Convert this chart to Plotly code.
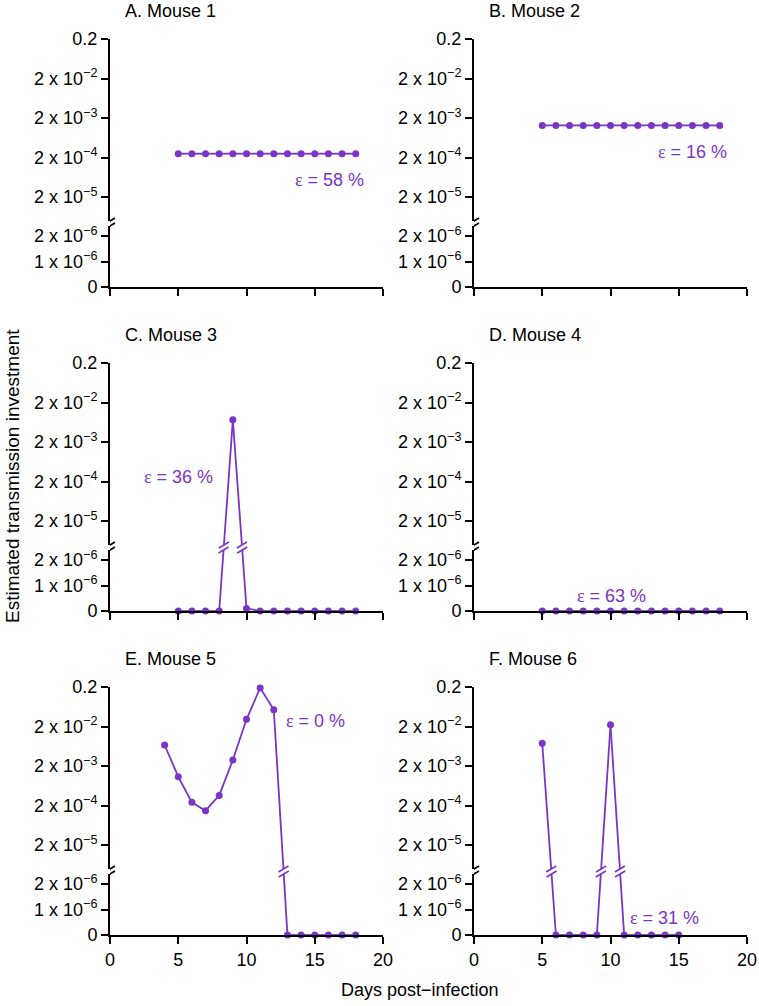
import math
import plotly.graph_objects as go

# ---------------- data ----------------
panel_titles = ["A. Mouse 1", "B. Mouse 2", "C. Mouse 3", "D. Mouse 4", "E. Mouse 5", "F. Mouse 6"]
eps_labels = ["58", "16", "36", "63", "0", "31"]

days_m1 = [5, 6, 7, 8, 9, 10, 11, 12, 13, 14, 15, 16, 17, 18]
vals_m1 = [2.5e-4, 2.5e-4, 2.5e-4, 2.5e-4, 2.5e-4, 2.5e-4, 2.5e-4, 2.5e-4, 2.5e-4, 2.5e-4, 2.5e-4, 2.5e-4, 2.5e-4, 2.5e-4]

days_m2 = [5, 6, 7, 8, 9, 10, 11, 12, 13, 14, 15, 16, 17, 18]
vals_m2 = [1.3e-3, 1.3e-3, 1.3e-3, 1.3e-3, 1.3e-3, 1.3e-3, 1.3e-3, 1.3e-3, 1.3e-3, 1.3e-3, 1.3e-3, 1.3e-3, 1.3e-3, 1.3e-3]

days_m3 = [5, 6, 7, 8, 9, 10, 11, 12, 13, 14, 15, 16, 17, 18]
vals_m3 = [0, 0, 0, 0, 7.3e-3, 1e-7, 0, 0, 0, 0, 0, 0, 0, 0]

days_m4 = [5, 6, 7, 8, 9, 10, 11, 12, 13, 14, 15, 16, 17, 18]
vals_m4 = [0, 0, 0, 0, 0, 0, 0, 0, 0, 0, 0, 0, 0, 0]

days_m5 = [4, 5, 6, 7, 8, 9, 10, 11, 12, 13, 14, 15, 16, 17, 18]
vals_m5 = [6.8e-3, 1.07e-3, 2.4e-4, 1.48e-4, 3.6e-4, 2.84e-3, 3.04e-2, 0.19, 5.3e-2, 0, 0, 0, 0, 0, 0]

days_m6 = [5, 6, 7, 8, 9, 10, 11, 12, 13, 14, 15]
vals_m6 = [7.5e-3, 0, 0, 0, 0, 2.2e-2, 0, 0, 0, 0, 0]

upper_tickvals = [2e-5, 2e-4, 2e-3, 2e-2, 0.2]
upper_ticktext = ["2 x 10<sup>\u22125</sup>", "2 x 10<sup>\u22124</sup>", "2 x 10<sup>\u22123</sup>",
                  "2 x 10<sup>\u22122</sup>", "0.2"]
lower_tickvals = [0, 1e-6, 2e-6]
lower_ticktext = ["0", "1 x 10<sup>\u22126</sup>", "2 x 10<sup>\u22126</sup>"]
x_tickvals = [0, 5, 10, 15, 20]

series = [(days_m1, vals_m1), (days_m2, vals_m2), (days_m3, vals_m3),
          (days_m4, vals_m4), (days_m5, vals_m5), (days_m6, vals_m6)]

# ---------------- layout geometry (pixels) ----------------
W, H = 759, 1006
COLS = [(110, 383), (474, 747)]
ROW_OFF = [0, 324, 648]
TOP, UP_BOT, LOW_TOP, BOT = 39, 221, 226, 287
PPD = 39.5            # pixels per decade on the log part
PPU = 25.5e6          # pixels per unit on the linear part
HI = math.log10(0.2)
LO = HI - (UP_BOT - TOP) / PPD
LIN_TOP = (BOT - LOW_TOP) / PPU
XMAX = 20.0

PURPLE = "#7b35c6"
FONT = "Liberation Sans, Arial, sans-serif"
FS = 18


def py(px):
    return 1 - px / H


def disp(v):
    """pixel height above panel bottom, following the two axes' scales"""
    if v >= LIN_TOP:
        return (BOT - UP_BOT) + (math.log10(v) - LO) * PPD
    return v * PPU


def virt_upper(d):
    return 10 ** (LO + (d - (BOT - UP_BOT)) / PPD)


def virt_lower(d):
    return d / PPU


fig = go.Figure()
shapes = []
annotations = []

for i, (days, vals) in enumerate(series):
    r, c = divmod(i, 2)
    off = ROW_OFF[r]
    xl, xr = COLS[c]
    xk = i + 1
    yu = 2 * i + 1
    yl = 2 * i + 2
    xname = "x" if xk == 1 else f"x{xk}"
    yuname = "y" if yu == 1 else f"y{yu}"
    ylname = f"y{yl}"

    common = dict(showgrid=False, zeroline=False, showline=True, linecolor="black", linewidth=2,
                  ticks="outside", ticklen=7, tickwidth=2, tickcolor="black", automargin=False,
                  tickfont=dict(family=FONT, size=FS, color="black"))

    fig.layout[f"xaxis{'' if xk == 1 else xk}"] = dict(
        domain=[xl / W, xr / W], anchor=ylname, range=[0, XMAX], tickvals=x_tickvals,
        showticklabels=(r == 2), **common)
    fig.layout[f"yaxis{'' if yu == 1 else yu}"] = dict(
        domain=[py(UP_BOT + off), py(TOP + off)], anchor=xname, type="log", range=[LO, HI],
        tickvals=upper_tickvals, ticktext=upper_ticktext, **common)
    fig.layout[f"yaxis{yl}"] = dict(
        domain=[py(BOT + off), py(LOW_TOP + off)], anchor=xname, range=[0, LIN_TOP],
        tickvals=lower_tickvals, ticktext=lower_ticktext, **common)

    # placeholder traces so that both parts of the axis are always drawn
    fig.add_trace(go.Scatter(x=[None], y=[None], xaxis=xname, yaxis=yuname, mode="markers",
                             showlegend=False, hoverinfo="skip"))
    fig.add_trace(go.Scatter(x=[None], y=[None], xaxis=xname, yaxis=ylname, mode="markers",
                             showlegend=False, hoverinfo="skip"))

    # y-axis break marks
    for ypx in (UP_BOT + off, LOW_TOP + off):
        shapes.append(dict(type="line", xref=xname, yref="paper", xsizemode="pixel", ysizemode="pixel",
                           xanchor=0, yanchor=py(ypx), x0=-5, x1=5, y0=-3, y1=3,
                           line=dict(color="black", width=1.6)))

    # split into segments
    up_x, up_y, lo_x, lo_y = [], [], [], []
    for j in range(len(days) - 1):
        x1, v1, x2, v2 = days[j], vals[j], days[j + 1], vals[j + 1]
        u1, u2 = v1 >= LIN_TOP, v2 >= LIN_TOP
        if u1 and u2:
            up_x += [x1, x2, None]; up_y += [v1, v2, None]
        elif not u1 and not u2:
            lo_x += [x1, x2, None]; lo_y += [v1, v2, None]
        else:
            d1, d2 = disp(v1), disp(v2)
            if u1:
                up_x += [x1, x2, None]; up_y += [v1, virt_upper(d2), None]
                lo_x += [x1, x2, None]; lo_y += [virt_lower(d1), v2, None]
            else:
                up_x += [x1, x2, None]; up_y += [virt_upper(d1), v2, None]
                lo_x += [x1, x2, None]; lo_y += [v1, virt_lower(d2), None]
            for dcut, ypx in ((BOT - UP_BOT, UP_BOT + off), (BOT - LOW_TOP, LOW_TOP + off)):
                t = (dcut - d1) / (d2 - d1)
                xc = x1 + (x2 - x1) * t
                shapes.append(dict(type="line", xref=xname, yref="paper", xsizemode="pixel",
                                   ysizemode="pixel", xanchor=xc, yanchor=py(ypx),
                                   x0=-5, x1=5, y0=-3, y1=3,
                                   line=dict(color=PURPLE, width=1.6)))

    line_style = dict(color=PURPLE, width=1.8)
    if up_x:
        fig.add_trace(go.Scatter(x=up_x, y=up_y, xaxis=xname, yaxis=yuname, mode="lines",
                                 line=line_style, showlegend=False, hoverinfo="skip"))
    if lo_x:
        fig.add_trace(go.Scatter(x=lo_x, y=lo_y, xaxis=xname, yaxis=ylname, mode="lines",
                                 line=line_style, showlegend=False, hoverinfo="skip"))
    ux = [d for d, v in zip(days, vals) if v >= LIN_TOP]
    uy = [v for v in vals if v >= LIN_TOP]
    lx = [d for d, v in zip(days, vals) if v < LIN_TOP]
    ly = [v for v in vals if v < LIN_TOP]
    mk = dict(color=PURPLE, size=7)
    if ux:
        fig.add_trace(go.Scatter(x=ux, y=uy, xaxis=xname, yaxis=yuname, mode="markers",
                                 marker=mk, cliponaxis=False, showlegend=False))
    if lx:
        fig.add_trace(go.Scatter(x=lx, y=ly, xaxis=xname, yaxis=ylname, mode="markers",
                                 marker=mk, cliponaxis=False, showlegend=False))

    # panel title
    annotations.append(dict(text=panel_titles[i], xref="paper", yref="paper",
                            x=(xl + 13) / W, y=py(11 + off), xanchor="left", yanchor="middle",
                            showarrow=False, font=dict(family=FONT, size=FS, color="black")))

# epsilon labels (pixel centres)
eps_pos = [(329, 180), (692, 152), (178, 477), (611, 596), (315, 721), (664, 918)]
for lab, (ex, ey) in zip(eps_labels, eps_pos):
    annotations.append(dict(text=f"<span style='font-family:Liberation Serif'>\u03b5</span> = {lab} %",
                            xref="paper", yref="paper", x=ex / W, y=py(ey), xanchor="center",
                            yanchor="middle", showarrow=False,
                            font=dict(family=FONT, size=FS, color=PURPLE)))

annotations.append(dict(text="Days post\u2212infection", xref="paper", yref="paper",
                        x=420 / W, y=py(990), xanchor="center", yanchor="middle", showarrow=False,
                        font=dict(family=FONT, size=FS, color="black")))
annotations.append(dict(text="Estimated transmission investment", xref="paper", yref="paper",
                        x=12 / W, y=py(476), xanchor="center", yanchor="middle", showarrow=False,
                        textangle=-90, font=dict(family=FONT, size=19, color="black")))

fig.update_layout(width=W, height=H, margin=dict(l=0, r=0, t=0, b=0, autoexpand=False),
                  paper_bgcolor="white", plot_bgcolor="white",
                  shapes=shapes, annotations=annotations, showlegend=False)

fig.write_html("out.html", config={"displayModeBar": False},
               post_script="document.body.style.margin='0px';document.body.style.overflow='hidden';")
